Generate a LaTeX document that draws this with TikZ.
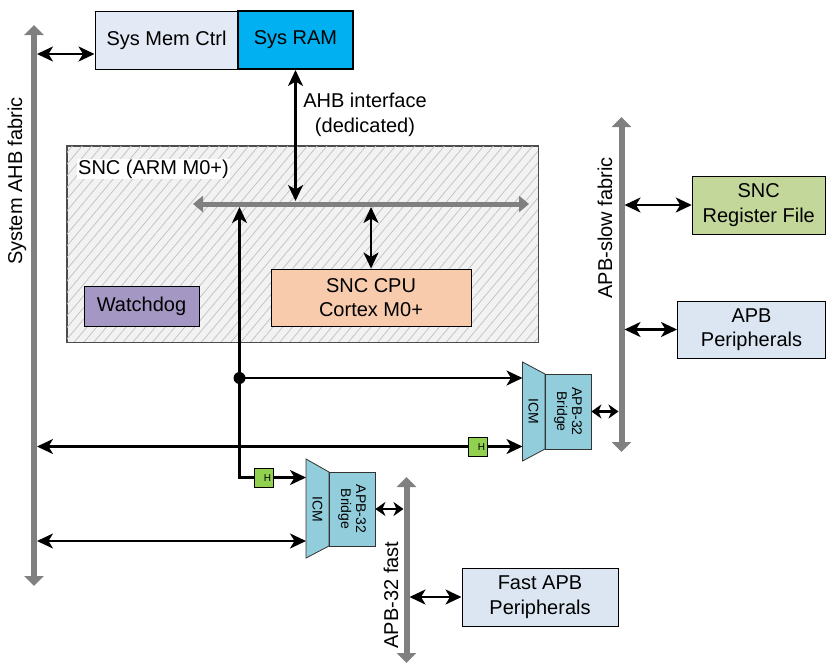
\documentclass[tikz,border=0pt]{standalone}
\usepackage{fontspec}
\setmainfont{Liberation Sans}
\usetikzlibrary{arrows.meta,patterns.meta,calc}
\definecolor{busgray}{HTML}{808080}
\definecolor{memfill}{HTML}{E3E9F5}
\definecolor{ramfill}{HTML}{00B0F0}
\definecolor{sncfill}{HTML}{F2F2F2}
\definecolor{hatch}{HTML}{C4C4C4}
\definecolor{wdfill}{HTML}{A597C4}
\definecolor{cpufill}{HTML}{F8CBAD}
\definecolor{brfill}{HTML}{92CDDC}
\definecolor{hfill}{HTML}{92D050}
\definecolor{regfill}{HTML}{C4D79B}
\definecolor{perfill}{HTML}{DCE6F2}
\begin{document}
\begin{tikzpicture}[x=1pt,y=1pt,
  font=\fontsize{20}{24.5}\selectfont,
  box/.style={draw=black, line width=1pt, inner sep=0pt, align=center},
  bus/.style={draw=busgray, line width=6pt,
    {Triangle[width=19pt,length=10pt]}-{Triangle[width=19pt,length=10pt]}},
  sbus/.style={draw=busgray, line width=5pt,
    {Triangle[width=16pt,length=10pt]}-{Triangle[width=16pt,length=10pt]}},
  dbl/.style={line width=2.4pt,
    {Stealth[length=16pt,width=15pt,inset=4.5pt]}-{Stealth[length=16pt,width=15pt,inset=4.5pt]}},
  sdbl/.style={line width=2.4pt,
    {Stealth[length=10pt,width=14pt,inset=3pt]}-{Stealth[length=10pt,width=14pt,inset=3pt]}},
  sarr/.style={line width=2.4pt, -{Stealth[length=16pt,width=15pt,inset=4.5pt]}},
  rarr/.style={line width=2.4pt, {Stealth[length=16pt,width=15pt,inset=4.5pt]}-},
  hbox/.style={draw=black, line width=1pt, fill=hfill, minimum size=19pt, inner sep=0pt},
  small/.style={font=\fontsize{14}{15}\selectfont},
  htext/.style={font=\fontsize{10}{10}\selectfont, inner sep=0pt},
]
\useasboundingbox (0,0) rectangle (826,-664);

% SNC container
\node[draw=black!70, line width=1pt, fill=sncfill, minimum width=471pt, minimum height=196pt, inner sep=0pt] (snc) at (302.5,-244) {};
\path[pattern={Lines[angle=50,distance=7.5pt,line width=0.8pt]}, pattern color=hatch] (snc.south west) rectangle (snc.north east);
\draw[draw=black!70, line width=1pt] (snc.south west) rectangle (snc.north east);
\node[fill=white, inner sep=1pt, anchor=west] (snclabel) at (77,-169) {SNC (ARM M0+)};

% boxes
\node[box, fill=memfill, minimum width=143pt, minimum height=58pt] (memctrl) at (166.5,-40) {Sys Mem Ctrl};
\node[box, fill=ramfill, line width=2pt, minimum width=115pt, minimum height=58pt] (ram) at (295.5,-40) {Sys RAM};
\node[box, fill=wdfill, minimum width=115pt, minimum height=40pt] (wd) at (141.5,-306) {Watchdog};
\node[box, fill=cpufill, minimum width=200pt, minimum height=57pt] (cpu) at (371,-297.5) {SNC CPU\\Cortex M0+};
\node[box, fill=regfill, minimum width=133pt, minimum height=58pt] (reg) at (758.75,-205) {SNC\\Register File};
\node[box, fill=perfill, minimum width=148pt, minimum height=57pt] (apbp) at (751.5,-329.5) {APB\\Peripherals};
\node[box, fill=perfill, minimum width=156pt, minimum height=58pt] (fast) at (540,-597) {Fast APB\\Peripherals};

% bridges
\draw[draw=black!80, line width=0.8pt, fill=brfill] (522.5,-362) -- (545,-374) -- (545,-449) -- (522.5,-461) -- cycle;
\node[draw=black!80, line width=0.8pt, fill=brfill, minimum width=46pt, minimum height=75pt, inner sep=0pt] (br1) at (568,-411.5) {};
\node[small, rotate=-90] (icm1) at (533.5,-411.5) {ICM};
\node[small, rotate=-90, align=center] (br1t) at (br1.center) {APB-32\\Bridge};
\coordinate (icm1L) at (522.5,0);

\draw[draw=black!80, line width=0.8pt, fill=brfill] (306,-459) -- (329,-472) -- (329,-546) -- (306,-558) -- cycle;
\node[draw=black!80, line width=0.8pt, fill=brfill, minimum width=46pt, minimum height=74pt, inner sep=0pt] (br2) at (352,-509) {};
\node[small, rotate=-90] (icm2) at (317.5,-509) {ICM};
\node[small, rotate=-90, align=center] (br2t) at (br2.center) {APB-32\\Bridge};
\coordinate (icm2L) at (306,0);

% buses
\coordinate (ahbT) at (34,-25);
\coordinate (ahbB) at (34,-586);
\coordinate (ahbR) at (37,0);
\draw[bus] (ahbT) -- (ahbB);
\node[rotate=90] (ahblabel) at (17,-181) {System AHB fabric};

\coordinate (slowT) at (621.5,-117);
\coordinate (slowB) at (621.5,-452);
\coordinate (slowL) at (618.5,0);
\coordinate (slowR) at (624.5,0);
\draw[bus] (slowT) -- (slowB);
\node[rotate=90] (slowlabel) at (605,-228) {APB-slow fabric};

\coordinate (fastT) at (406.5,-477);
\coordinate (fastB) at (406.5,-663);
\coordinate (fastL) at (403.5,0);
\coordinate (fastR) at (409.5,0);
\draw[bus] (fastT) -- (fastB);
\node[rotate=90] (fastlabel) at (391,-595) {APB-32 fast};

\coordinate (sbL) at (193,-204);
\coordinate (sbR) at (529,-204);
\coordinate (sbT) at (0,-201);
\coordinate (sbB) at (0,-207);
\draw[sbus] (sbL) -- (sbR);

% H boxes
\node[hbox] (h1) at (477.5,-446.5) {};
\node[htext] (h1t) at ($(h1.center)+(4,-1)$) {H};
\node[hbox] (h2) at (263.5,-477.5) {};
\node[htext] (h2t) at ($(h2.center)+(4,-1)$) {H};

% connectors
\coordinate (m1) at ($(memctrl.west)+(0,-14)$);
\draw[dbl] (m1 -| ahbR) -- (m1);
\draw[dbl] (ram.south) -- (ram.south |- sbT);
\node[align=center] (ahbif) at (365,-115) {AHB interface\\(dedicated)};
\draw[dbl] (cpu.north |- sbB) -- (cpu.north);

\coordinate (vx) at (239.5,0);
\coordinate (dot) at (239.5,-378);
\draw[sarr] (h2.west) -| (vx |- sbB);
\fill (dot) circle (6pt);
\draw[sarr] (dot) -- (dot -| icm1L);
\draw[rarr] (h1.west -| ahbR) -- (h1.west);
\draw[sarr] (h1.east) -- (h1.east -| icm1L);
\draw[sarr] (h2.east) -- (h2.east -| icm2L);
\coordinate (y541) at (0,-541);
\draw[dbl] (ahbR |- y541) -- (icm2L |- y541);

\draw[sdbl] (br1.east) -- (br1.east -| slowL);
\draw[sdbl] (br2.east) -- (br2.east -| fastL);
\draw[dbl] (reg.west -| slowR) -- (reg.west);
\draw[dbl] (apbp.west -| slowR) -- (apbp.west);
\draw[dbl] (fast.west -| fastR) -- (fast.west);
\end{tikzpicture}
\end{document}
